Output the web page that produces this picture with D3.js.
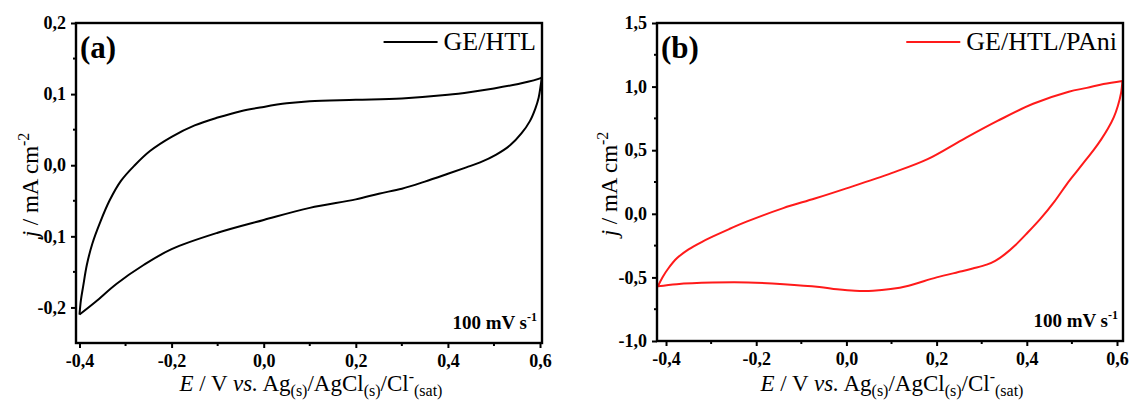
<!DOCTYPE html>
<html>
<head>
<meta charset="utf-8">
<script src="https://cdn.jsdelivr.net/npm/d3@7"></script>
<style>
  body { margin: 0; background: #fff; }
</style>
</head>
<body>
<script>
// panel (a) GE/HTL, cyclic voltammogram [E, j]
var htlForward = [
  [-0.400, -0.210], [-0.397, -0.190], [-0.392, -0.170], [-0.384, -0.140],
  [-0.372, -0.110], [-0.355, -0.080], [-0.335, -0.050], [-0.310, -0.022],
  [-0.280, 0.000], [-0.247, 0.020], [-0.200, 0.040], [-0.150, 0.056],
  [-0.100, 0.067], [-0.050, 0.076], [0.000, 0.082], [0.050, 0.087],
  [0.100, 0.090], [0.200, 0.092], [0.300, 0.094], [0.400, 0.099],
  [0.450, 0.103], [0.500, 0.108], [0.550, 0.114], [0.600, 0.122], [0.604, 0.124]
];
var htlReverse = [
  [0.604, 0.124], [0.601, 0.110], [0.597, 0.095], [0.590, 0.080],
  [0.578, 0.062], [0.560, 0.045], [0.535, 0.028], [0.505, 0.015],
  [0.470, 0.004], [0.440, -0.003], [0.400, -0.012], [0.350, -0.023],
  [0.300, -0.033], [0.250, -0.040], [0.200, -0.048], [0.100, -0.060],
  [0.000, -0.077], [-0.100, -0.095], [-0.200, -0.118], [-0.260, -0.140],
  [-0.320, -0.167], [-0.365, -0.192], [-0.400, -0.210]
];

// panel (b) GE/HTL/PAni
var paniForward = [
  [-0.418, -0.570], [-0.408, -0.500], [-0.395, -0.430], [-0.376, -0.350],
  [-0.350, -0.280], [-0.320, -0.220], [-0.297, -0.180], [-0.260, -0.120],
  [-0.220, -0.060], [-0.140, 0.045], [-0.070, 0.120],
  [0.000, 0.200], [0.100, 0.320], [0.180, 0.430], [0.256, 0.580],
  [0.335, 0.730], [0.414, 0.865], [0.493, 0.960], [0.533, 0.990],
  [0.570, 1.020], [0.612, 1.044]
];
var paniReverse = [
  [0.612, 1.044], [0.609, 0.950], [0.602, 0.850], [0.593, 0.760],
  [0.580, 0.670], [0.565, 0.585], [0.548, 0.500], [0.530, 0.420],
  [0.510, 0.330], [0.488, 0.230], [0.462, 0.100], [0.430, -0.040], [0.398, -0.162],
  [0.375, -0.245], [0.351, -0.319], [0.330, -0.370], [0.311, -0.400],
  [0.280, -0.430], [0.256, -0.452], [0.200, -0.500], [0.138, -0.565],
  [0.098, -0.592], [0.059, -0.605], [0.019, -0.605], [-0.021, -0.593],
  [-0.060, -0.575], [-0.139, -0.553], [-0.218, -0.540], [-0.297, -0.541],
  [-0.376, -0.553], [-0.418, -0.570]
];

var xTicks = [-0.4, -0.2, 0.0, 0.2, 0.4, 0.6];
var yTicksA = [-0.2, -0.1, 0.0, 0.1, 0.2];
var yTicksB = [-1.0, -0.5, 0.0, 0.5, 1.0, 1.5];

var W = 1129, H = 401;

// pick the first installed Times-like font
function pickFont(list) {
  var ctx = document.createElement("canvas").getContext("2d");
  var probe = "mmmmmmmmmmlliWWQ";
  ctx.font = "72px monospace";
  var base = ctx.measureText(probe).width;
  for (var i = 0; i < list.length; i++) {
    ctx.font = "72px \"" + list[i] + "\", monospace";
    if (ctx.measureText(probe).width !== base) return "\"" + list[i] + "\"";
  }
  return "serif";
}
var SERIF = pickFont(["Liberation Serif", "Times New Roman", "Times", "Nimbus Roman", "DejaVu Serif", "Noto Serif"]) + ", serif";

var svg = d3.select("body").append("svg")
  .attr("width", W)
  .attr("height", H)
  .style("font-family", SERIF);

function fmt(d) {
  return d3.format(".1f")(d).replace(".", ",").replace("\u2212", "-");
}

function drawPanel(o) {
  var x = d3.scaleLinear().domain(o.xDom).range([o.left, o.right]);
  var y = d3.scaleLinear().domain(o.yDom).range([o.bottom, o.top]);

  // minor ticks
  var g = svg.append("g");
  g.selectAll(".mx").data(o.xMinor).enter().append("line")
    .attr("x1", function(d) { return x(d); })
    .attr("x2", function(d) { return x(d); })
    .attr("y1", o.bottom).attr("y2", o.bottom + 3)
    .attr("stroke", "#000").attr("stroke-width", 2);
  g.selectAll(".my").data(o.yMinor).enter().append("line")
    .attr("y1", function(d) { return y(d); })
    .attr("y2", function(d) { return y(d); })
    .attr("x1", o.left).attr("x2", o.left - 3)
    .attr("stroke", "#000").attr("stroke-width", 2);

  var xa = svg.append("g")
    .attr("transform", "translate(0," + o.bottom + ")")
    .call(d3.axisBottom(x).tickValues(xTicks).tickSize(5).tickPadding(6).tickFormat(fmt));
  var ya = svg.append("g")
    .attr("transform", "translate(" + o.left + ",0)")
    .call(d3.axisLeft(y).tickValues(o.yTicks).tickSize(5).tickPadding(5).tickFormat(fmt));
  [xa, ya].forEach(function(a) {
    a.attr("font-family", null).attr("font-size", null);
    a.select(".domain").remove();
    a.selectAll(".tick line").attr("stroke", "#000").attr("stroke-width", 2);
    a.selectAll(".tick text")
      .attr("fill", "#000")
      .style("font-family", SERIF)
      .style("font-weight", "bold")
      .style("font-size", "18px");
  });

  // curve
  var line = d3.line()
    .x(function(d) { return x(d[0]); })
    .y(function(d) { return y(d[1]); })
    .curve(d3.curveCatmullRom.alpha(0.5));
  svg.append("path").datum(o.fwd)
    .attr("d", line).attr("fill", "none")
    .attr("stroke", o.color).attr("stroke-width", 2);
  svg.append("path").datum(o.rev)
    .attr("d", line).attr("fill", "none")
    .attr("stroke", o.color).attr("stroke-width", 2);

  // frame
  svg.append("rect")
    .attr("x", o.left).attr("y", o.top)
    .attr("width", o.right - o.left).attr("height", o.bottom - o.top)
    .attr("fill", "none").attr("stroke", "#000").attr("stroke-width", 2.4);

  // panel letter
  svg.append("text")
    .attr("x", o.left + 4).attr("y", o.top + 35)
    .style("font-weight", "bold").style("font-size", "31px")
    .text(o.letter);

  // legend: text right aligned, line placed just left of it
  var lt = svg.append("text")
    .attr("x", o.right - 6).attr("y", o.top + 27)
    .attr("text-anchor", "end")
    .style("font-size", "26px")
    .text(o.name);
  var tw = lt.node().getComputedTextLength();
  svg.append("line")
    .attr("x1", o.right - 6 - tw - 60).attr("x2", o.right - 6 - tw - 6)
    .attr("y1", o.top + 19).attr("y2", o.top + 19)
    .attr("stroke", o.color).attr("stroke-width", 2);

  // scan rate
  var sr = svg.append("text")
    .attr("x", o.right - 5).attr("y", o.bottom - 14)
    .attr("text-anchor", "end")
    .style("font-weight", "bold").style("font-size", "19px");
  sr.append("tspan").text("100 mV s");
  sr.append("tspan").attr("dy", -8).style("font-size", "12px").text("-1");

  // x title
  var xt = svg.append("text")
    .attr("x", (o.left + o.right) / 2 + 2).attr("y", 391)
    .attr("text-anchor", "middle")
    .style("font-size", "23px");
  xt.append("tspan").style("font-style", "italic").text("E");
  xt.append("tspan").text(" / V ");
  xt.append("tspan").style("font-style", "italic").text("vs.");
  xt.append("tspan").text(" Ag");
  xt.append("tspan").attr("dy", 5).style("font-size", "16px").text("(s)");
  xt.append("tspan").attr("dy", -5).text("/AgCl");
  xt.append("tspan").attr("dy", 5).style("font-size", "16px").text("(s)");
  xt.append("tspan").attr("dy", -5).text("/Cl");
  xt.append("tspan").attr("dy", -9).style("font-size", "16px").text("-");
  xt.append("tspan").attr("dy", 14).style("font-size", "16px").text("(sat)");

  // y title
  var yt = svg.append("text")
    .attr("transform", "translate(" + o.yTitleX + "," + ((o.top + o.bottom) / 2 + 2) + ") rotate(-90)")
    .attr("text-anchor", "middle")
    .style("font-size", "23px");
  yt.append("tspan").style("font-style", "italic").text("j");
  yt.append("tspan").text(" / mA cm");
  yt.append("tspan").attr("dy", -9).style("font-size", "16px").text("-2");
}

drawPanel({
  left: 76, right: 542, top: 23, bottom: 343,
  xDom: [-0.4076, 0.6043], yDom: [-0.25, 0.2],
  yTicks: yTicksA,
  xMinor: [-0.3, -0.1, 0.1, 0.3, 0.5],
  yMinor: [-0.15, -0.05, 0.05, 0.15],
  fwd: htlForward, rev: htlReverse,
  color: "#000", letter: "(a)", name: "GE/HTL", yTitleX: 38
});

drawPanel({
  left: 657, right: 1123, top: 23, bottom: 341,
  xDom: [-0.42, 0.6133], yDom: [-1.0, 1.5],
  yTicks: yTicksB,
  xMinor: [-0.3, -0.1, 0.1, 0.3, 0.5],
  yMinor: [-0.75, -0.25, 0.25, 0.75, 1.25],
  fwd: paniForward, rev: paniReverse,
  color: "#ff1a1a", letter: "(b)", name: "GE/HTL/PAni", yTitleX: 617
});
</script>
</body>
</html>
